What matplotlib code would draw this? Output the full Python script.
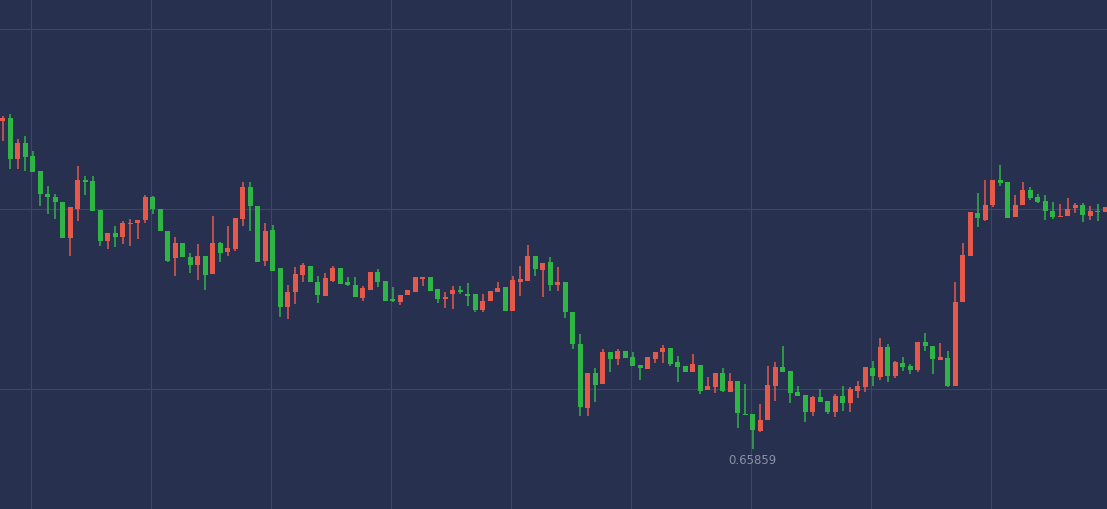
import numpy as np
import matplotlib.pyplot as plt

# prices in points (1e-5)
opens = [66187, 66190, 66149, 66165, 66152, 66137, 66114, 66111, 66106, 66070,
         66099, 66128, 66127, 66098, 66067, 66075, 66071, 66084, 66085, 66088,
         66111, 66099, 66077, 66050, 66065, 66051, 66043, 66052, 66034, 66065,
         66056, 66059, 66089, 66121, 66102, 66047, 66078, 66040, 66001, 66016,
         66033, 66042, 66026, 66012, 66027, 66040, 66026, 66023, 66010, 66018,
         66036, 66027, 66009, 66006, 66013, 66016, 66029, 66031, 66019, 66009,
         66014, 66018, 66014, 66014, 65998, 66007, 66016, 66021, 65997, 66026,
         66027, 66052, 66038, 66046, 66023, 66026, 65996, 65964, 65900, 65935,
         65924, 65956, 65949, 65957, 65951, 65943, 65939, 65949, 65956, 65960,
         65946, 65942, 65936, 65943, 65918, 65921, 65935, 65916, 65927, 65894,
         65894, 65877, 65888, 65922, 65941, 65937, 65916, 65913, 65896, 65911,
         65907, 65896, 65912, 65905, 65917, 65921, 65940, 65931, 65961, 65932,
         65945, 65942, 65938, 65966, 65962, 65948, 65950, 65922, 66006, 66052,
         66095, 66088, 66103, 66128, 66126, 66091, 66103, 66118, 66111, 66107,
         66097, 66091, 66092, 66100, 66103, 66092, 66097, 66096]
highs = [66192, 66194, 66169, 66172, 66157, 66137, 66122, 66114, 66106, 66101,
         66142, 66132, 66132, 66098, 66075, 66082, 66087, 66089, 66088, 66113,
         66112, 66099, 66077, 66071, 66065, 66055, 66064, 66052, 66092, 66066,
         66082, 66090, 66126, 66126, 66102, 66085, 66083, 66040, 66023, 66041,
         66045, 66042, 66032, 66035, 66042, 66040, 66031, 66031, 66022, 66036,
         66039, 66027, 66021, 66013, 66018, 66031, 66031, 66031, 66019, 66016,
         66022, 66022, 66025, 66014, 66014, 66017, 66026, 66021, 66032, 66042,
         66063, 66052, 66045, 66051, 66041, 66026, 65996, 65974, 65935, 65940,
         65959, 65956, 65959, 65957, 65956, 65943, 65951, 65956, 65963, 65960,
         65952, 65942, 65954, 65943, 65931, 65935, 65940, 65935, 65927, 65924,
         65894, 65904, 65942, 65946, 65962, 65937, 65922, 65913, 65912, 65919,
         65907, 65914, 65922, 65921, 65927, 65941, 65947, 65970, 65964, 65947,
         65951, 65944, 65966, 65975, 65962, 65965, 65957, 66026, 66065, 66096,
         66115, 66128, 66128, 66143, 66126, 66113, 66126, 66121, 66114, 66113,
         66106, 66104, 66110, 66105, 66105, 66102, 66104, 66101]
lows = [66167, 66139, 66139, 66137, 66136, 66102, 66094, 66089, 66070, 66052,
        66087, 66113, 66097, 66062, 66059, 66061, 66064, 66062, 66069, 66085,
        66094, 66077, 66046, 66032, 66051, 66035, 66028, 66018, 66034, 66046,
        66052, 66057, 66082, 66077, 66046, 66042, 66037, 65991, 65989, 66004,
        66026, 66026, 66005, 66012, 66026, 66024, 66022, 66011, 66007, 66018,
        66021, 66007, 66006, 66003, 66013, 66016, 66022, 66017, 66005, 66000,
        65999, 66014, 66002, 65996, 65996, 66007, 66016, 65997, 65997, 66012,
        66027, 66032, 66011, 66017, 66017, 65990, 65959, 65892, 65892, 65906,
        65924, 65936, 65943, 65950, 65942, 65928, 65939, 65945, 65945, 65942,
        65926, 65936, 65936, 65914, 65918, 65915, 65916, 65916, 65880, 65893,
        65859, 65876, 65888, 65907, 65936, 65905, 65912, 65886, 65892, 65906,
        65894, 65891, 65897, 65896, 65910, 65916, 65922, 65928, 65926, 65930,
        65937, 65934, 65936, 65957, 65934, 65948, 65921, 65922, 66006, 66052,
        66081, 66087, 66101, 66122, 66090, 66091, 66103, 66108, 66105, 66088,
        66089, 66091, 66092, 66095, 66086, 66088, 66087, 66096]
closes = [66190, 66149, 66165, 66151, 66136, 66114, 66111, 66106, 66070, 66101,
          66128, 66126, 66097, 66067, 66075, 66071, 66085, 66085, 66088, 66111,
          66099, 66077, 66047, 66065, 66051, 66043, 66052, 66033, 66065, 66055,
          66060, 66090, 66121, 66102, 66046, 66077, 66037, 66001, 66016, 66034,
          66043, 66026, 66013, 66030, 66040, 66024, 66023, 66011, 66020, 66036,
          66026, 66007, 66007, 66013, 66018, 66031, 66031, 66017, 66009, 66011,
          66018, 66016, 66012, 65998, 66007, 66017, 66020, 65997, 66028, 66029,
          66052, 66039, 66045, 66023, 66026, 65996, 65964, 65901, 65935, 65923,
          65956, 65949, 65957, 65950, 65942, 65940, 65951, 65956, 65960, 65944,
          65941, 65936, 65944, 65917, 65922, 65935, 65917, 65927, 65895, 65893,
          65878, 65888, 65923, 65941, 65936, 65915, 65912, 65896, 65911, 65906,
          65896, 65912, 65905, 65919, 65922, 65941, 65932, 65961, 65932, 65946,
          65941, 65938, 65966, 65962, 65949, 65951, 65922, 66006, 66053, 66096,
          66090, 66103, 66128, 66125, 66090, 66103, 66118, 66110, 66106, 66097,
          66091, 66092, 66099, 66103, 66093, 66097, 66096, 66101]
low_label = "0.65859"

o = np.array(opens) / 1e5
h = np.array(highs) / 1e5
l = np.array(lows) / 1e5
c = np.array(closes) / 1e5
x = np.arange(len(o))

bg = '#283050'
up_col = '#e5594b'
dn_col = '#2fb546'

fig = plt.figure(figsize=(11.07, 5.1), dpi=100, facecolor=bg)
ax = fig.add_axes([0, 0, 1, 1])
ax.set_facecolor(bg)

cols = [up_col if cc >= oo else dn_col for oo, cc in zip(o, c)]
ax.vlines(x, l, h, colors=cols, linewidth=1.1, zorder=3)
bottoms = np.minimum(o, c)
heights = np.maximum(np.abs(c - o), 0.000015)
ax.bar(x, heights, bottom=bottoms, width=0.68, color=cols, zorder=4)

# grid
for gy in [0.66279, 0.66099, 0.65919]:
    ax.axhline(gy, color='#3d4668', linewidth=0.8, zorder=1)
for gx in np.arange(3.77, 148, 16):
    ax.axvline(gx, color='#3d4668', linewidth=0.8, zorder=1)

imin = int(np.argmin(l))
ax.text(x[imin], l[imin] - 0.00004, low_label, color='#8a90a6', fontsize=8.5,
        ha='center', va='top', zorder=5)

ax.set_xlim(-0.36, -0.36 + 1107 / 7.5)
ax.set_ylim(0.65799, 0.66309)
ax.axis('off')

fig.savefig('out.png', dpi=100, facecolor=bg)
